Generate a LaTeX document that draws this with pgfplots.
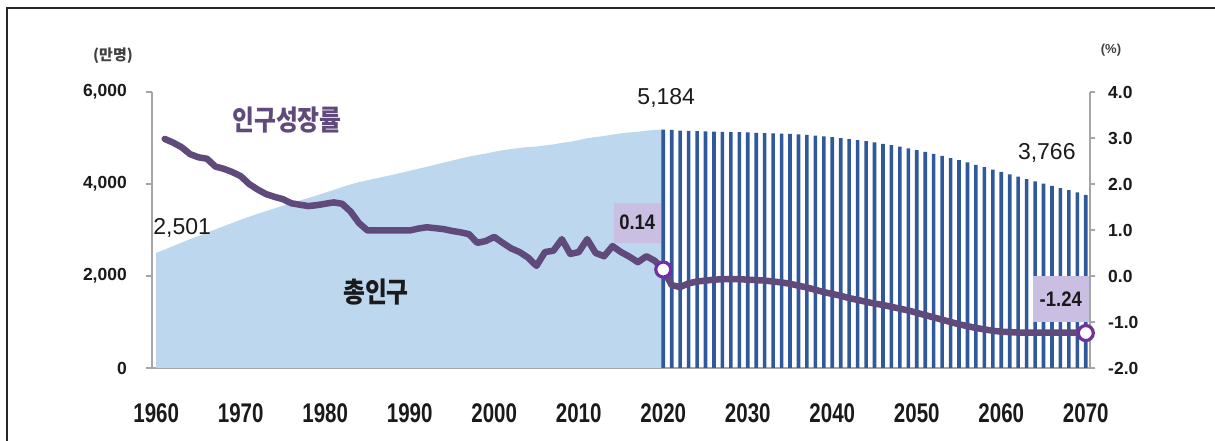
\documentclass[border=0pt]{standalone}
\usepackage{pgfplots}
\usepackage{pgfplotstable}
\pgfplotsset{compat=1.18}
\usepackage{fontspec}
\setmainfont{Liberation Sans}
\newfontfamily\kr{Noto Sans CJK KR}
\newfontfamily\krn[FakeStretch=0.85]{Noto Sans CJK KR}
\newfontfamily\narrow[FakeStretch=0.76]{Liberation Sans}
\newfontfamily\semin[FakeStretch=0.88]{Liberation Sans}

\definecolor{popblue}{HTML}{BDD7EE}
\definecolor{bardark}{HTML}{30599B}
\definecolor{ratepurple}{HTML}{604A7B}
\definecolor{markpurple}{HTML}{7030A0}
\definecolor{boxlav}{HTML}{CABFE3}
\definecolor{axisgray}{HTML}{A6A6A6}
\definecolor{txt}{HTML}{1A1A1A}
\newcommand\fs[1]{\fontsize{#1}{#1}\selectfont}

% Total population (10,000 persons), estimates 1960-2020
\pgfplotstableread{
year pop
1960 2501
1961 2576
1962 2651
1963 2726
1964 2801
1965 2870
1966 2944
1967 3013
1968 3082
1969 3154
1970 3224
1971 3288
1972 3351
1973 3410
1974 3469
1975 3528
1976 3585
1977 3642
1978 3697
1979 3753
1980 3812
1981 3872
1982 3933
1983 3991
1984 4041
1985 4081
1986 4121
1987 4162
1988 4202
1989 4245
1990 4287
1991 4330
1992 4375
1993 4419
1994 4464
1995 4509
1996 4553
1997 4595
1998 4629
1999 4662
2000 4701
2001 4734
2002 4760
2003 4782
2004 4804
2005 4814
2006 4837
2007 4860
2008 4895
2009 4918
2010 4955
2011 4994
2012 5020
2013 5043
2014 5075
2015 5101
2016 5122
2017 5136
2018 5158
2019 5176
2020 5184
}\popest

% Total population, projection 2020-2070
\pgfplotstableread{
year pop
2020 5184
2021 5175
2022 5163
2023 5156
2024 5150
2025 5145
2026 5140
2027 5135
2028 5130
2029 5125
2030 5120
2031 5114
2032 5108
2033 5101
2034 5094
2035 5087
2036 5077
2037 5066
2038 5053
2039 5037
2040 5019
2041 4999
2042 4978
2043 4955
2044 4930
2045 4903
2046 4874
2047 4843
2048 4810
2049 4774
2050 4736
2051 4696
2052 4654
2053 4610
2054 4565
2055 4518
2056 4468
2057 4418
2058 4366
2059 4314
2060 4262
2061 4210
2062 4159
2063 4108
2064 4058
2065 4009
2066 3961
2067 3913
2068 3866
2069 3816
2070 3766
}\popproj

% Population growth rate (%)
\pgfplotstableread{
year rate
1961 2.98
1962 2.90
1963 2.80
1964 2.65
1965 2.58
1966 2.55
1967 2.38
1968 2.33
1969 2.26
1970 2.17
1971 2.00
1972 1.88
1973 1.78
1974 1.72
1975 1.67
1976 1.58
1977 1.55
1978 1.52
1979 1.54
1980 1.57
1981 1.60
1982 1.57
1983 1.40
1984 1.15
1985 0.99
1986 0.99
1987 0.99
1988 0.99
1989 0.99
1990 0.99
1991 1.03
1992 1.06
1993 1.04
1994 1.02
1995 0.98
1996 0.95
1997 0.91
1998 0.72
1999 0.76
2000 0.85
2001 0.72
2002 0.60
2003 0.52
2004 0.40
2005 0.22
2006 0.52
2007 0.55
2008 0.80
2009 0.48
2010 0.52
2011 0.80
2012 0.50
2013 0.43
2014 0.65
2015 0.52
2016 0.42
2017 0.30
2018 0.43
2019 0.33
2020 0.14
2021 -0.20
2022 -0.24
2023 -0.16
2024 -0.12
2025 -0.10
2026 -0.08
2027 -0.07
2028 -0.07
2029 -0.07
2030 -0.08
2031 -0.09
2032 -0.10
2033 -0.12
2034 -0.14
2035 -0.17
2036 -0.21
2037 -0.25
2038 -0.30
2039 -0.35
2040 -0.39
2041 -0.43
2042 -0.48
2043 -0.52
2044 -0.56
2045 -0.60
2046 -0.63
2047 -0.67
2048 -0.71
2049 -0.75
2050 -0.80
2051 -0.85
2052 -0.90
2053 -0.95
2054 -1.00
2055 -1.05
2056 -1.09
2057 -1.13
2058 -1.16
2059 -1.19
2060 -1.21
2061 -1.22
2062 -1.23
2063 -1.23
2064 -1.23
2065 -1.23
2066 -1.23
2067 -1.23
2068 -1.23
2069 -1.23
2070 -1.24
}\growth

\begin{document}
\begin{tikzpicture}[x=1pt,y=1pt]
\path[use as bounding box] (0,0) rectangle (1215,441);

% frame
\draw[black!85, line width=1.3pt] (7,0) -- (7,433) -- (1215,433);

% left axis: total population
\begin{axis}[
  at={(152pt,73pt)}, anchor=south west,
  scale only axis, width=938pt, height=276pt,
  xmin=1959.5, xmax=2070.5, ymin=0, ymax=6000,
  axis x line*=bottom, axis y line*=left,
  axis line style={draw=axisgray, line width=1.2pt},
  tick style={draw=axisgray, line width=1.2pt},
  tick align=outside, major tick length=6pt,
  xtick={1960,1970,...,2070},
  xticklabels={1960,1970,1980,1990,2000,2010,2020,2030,2040,2050,2060,2070},
  x tick style={draw=none},
  extra x ticks={1959.5,1984.5,2009.5,2034.5,2059.5},
  extra x tick labels={},
  extra x tick style={major tick length=9pt, tick style={draw=axisgray, line width=1.2pt}},
  xticklabel style={font=\narrow\bfseries\fs{27}, text=txt, anchor=north, inner sep=0pt, yshift=-29pt},
  ytick={0,2000,4000,6000},
  yticklabels={0,{2,000},{4,000},{6,000}},
  yticklabel style={font=\bfseries\fs{17.5}, text=txt, anchor=east, inner sep=0pt, xshift=-19pt},
  clip=false,
]
\addplot[fill=popblue, draw=none] table[x=year, y=pop] {\popest} \closedcycle;
\addplot[ybar, bar width=3.6pt, fill=bardark, draw=none] table[x=year, y=pop] {\popproj};
\node[font=\fs{23}, text=txt, anchor=west, inner sep=0pt] at (axis cs:1960,2501) [xshift=-3pt, yshift=25pt] {2,501};
\node[font=\fs{23}, text=txt, inner sep=0pt] at (axis cs:2020,5184) [xshift=3pt, yshift=32pt] {5,184};
\node[font=\fs{23}, text=txt, inner sep=0pt] at (axis cs:2070,3766) [xshift=-39pt, yshift=42pt] {3,766};
\end{axis}

% right axis: growth rate
\begin{axis}[
  at={(152pt,73pt)}, anchor=south west,
  scale only axis, width=938pt, height=276pt,
  xmin=1959.5, xmax=2070.5, ymin=-2, ymax=4,
  axis x line=none, axis y line*=right,
  axis line style={draw=axisgray, line width=1.2pt},
  tick style={draw=axisgray, line width=1.2pt},
  tick align=outside, major tick length=5pt,
  ytick={-2,-1,0,1,2,3,4},
  yticklabels={-2.0,-1.0,0.0,1.0,2.0,3.0,4.0},
  yticklabel style={font=\bfseries\fs{17.5}, text=txt, anchor=west, inner sep=0pt, xshift=13pt},
  clip=false,
]
\addplot[color=ratepurple, line width=6.5pt, line join=round, line cap=round] table[x=year, y=rate] {\growth};
\node[fill=boxlav, minimum width=47pt, minimum height=40pt, inner sep=0pt, font=\semin\bfseries\fs{21}, text=txt] at (axis cs:2020,0.14) [xshift=-26pt, yshift=47pt] {0.14};
\node[fill=boxlav, minimum width=56pt, minimum height=46pt, inner sep=0pt, font=\semin\bfseries\fs{21}, text=txt] at (axis cs:2070,-1.24) [xshift=-25pt, yshift=34pt] {-1.24};
\addplot[only marks, mark=*, mark size=7.5pt, mark options={fill=white, draw=markpurple, line width=3.2pt}] coordinates {(2020,0.14) (2070,-1.24)};
\end{axis}

% series names and units
\node[font=\kr\bfseries\fs{15}, text=black!75] at (113,385) {(만명)};
\node[font=\bfseries\fs{13}, text=black!75] at (1111,391) {(\%)};
\node[font=\krn\bfseries\fs{28}, text=ratepurple] at (287,321) {인구성장률};
\node[font=\krn\bfseries\fs{28}, text=txt] at (376,149) {총인구};
\end{tikzpicture}
\end{document}
